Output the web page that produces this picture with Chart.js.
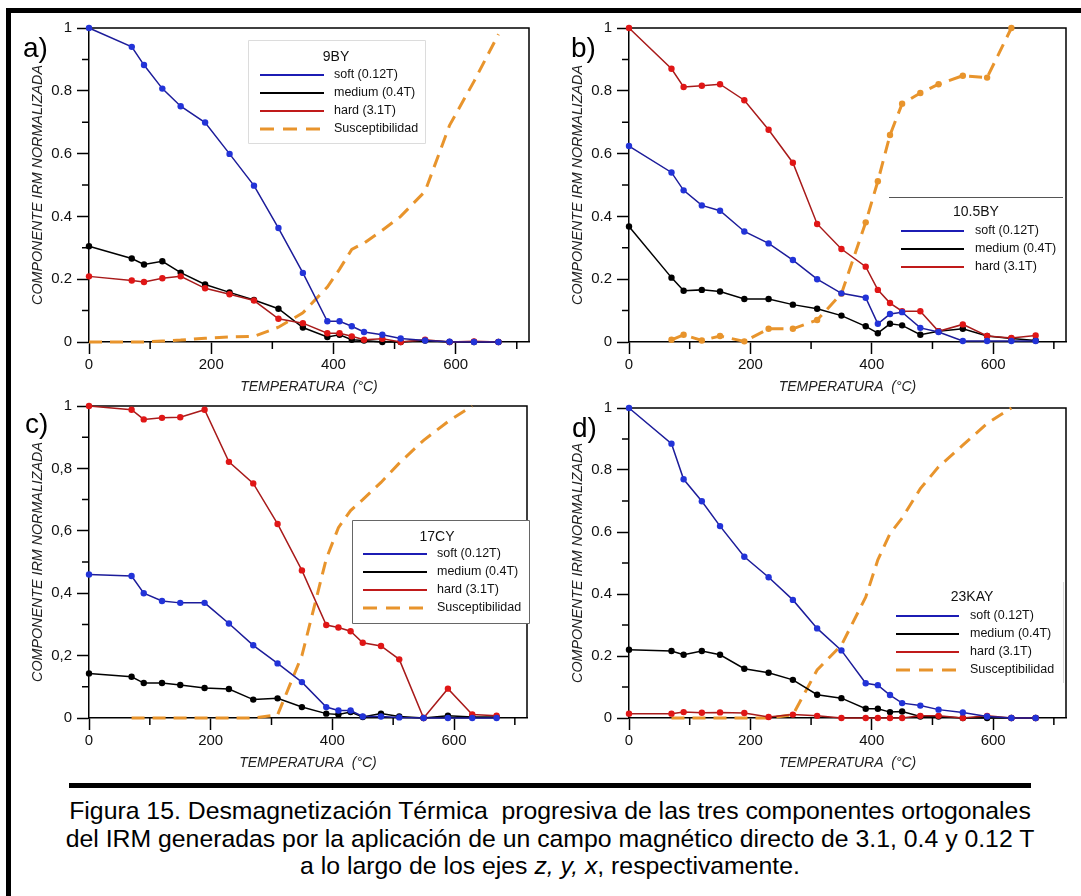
<!DOCTYPE html>
<html>
<head>
<meta charset="utf-8">
<script src="https://cdn.jsdelivr.net/npm/chart.js@4.4.1/dist/chart.umd.min.js"></script>
<style>
  body { margin: 0; background: #fff; }
  #page { position: relative; width: 1081px; height: 896px; overflow: hidden; background: #fff;
          font-family: "Liberation Sans", Arial, sans-serif; }
  .frame-top { position: absolute; left: 6px; top: 8px; width: 1075px; height: 5px; background: #000; }
  .frame-left { position: absolute; left: 6px; top: 8px; width: 5px; height: 888px; background: #000; }
  .panel { position: absolute; }
  .tag { position: absolute; font-size: 28px; line-height: 28px; color: #000; }
  .rule { position: absolute; left: 69px; top: 783px; width: 962px; height: 5px; background: #000; }
  .caption { position: absolute; left: 20px; top: 797px; width: 1060px; text-align: center;
             font-size: 24.8px; line-height: 27.5px; color: #000; white-space: nowrap; }
</style>
</head>
<body>
<div id="page">
  <div class="frame-top"></div>
  <div class="frame-left"></div>

  <canvas id="chartA" class="panel" width="528" height="382" style="left:12px;top:14px"></canvas>
  <canvas id="chartB" class="panel" width="528" height="382" style="left:552px;top:14px"></canvas>
  <canvas id="chartC" class="panel" width="528" height="380" style="left:12px;top:392px"></canvas>
  <canvas id="chartD" class="panel" width="528" height="378" style="left:552px;top:394px"></canvas>

  <div class="tag" style="left:23px;top:34px">a)</div>
  <div class="tag" style="left:571px;top:34px">b)</div>
  <div class="tag" style="left:25px;top:410px">c)</div>
  <div class="tag" style="left:572px;top:414px">d)</div>

  <div class="rule"></div>
  <div class="caption">
    <div>Figura 15. Desmagnetización Térmica &nbsp;progresiva de las tres componentes ortogonales</div>
    <div>del IRM generadas por la aplicación de un campo magnético directo de 3.1, 0.4 y 0.12 T</div>
    <div>a lo largo de los ejes <i>z, y, x</i>, respectivamente.</div>
  </div>
</div>

<script>
// temperature steps (°C)
const temps = [0, 70, 90, 120, 150, 190, 230, 270, 310, 350, 390, 410, 430, 450, 480, 510, 550, 590, 630, 670];
const suscTemps = [70, 90, 120, 150, 190, 230, 270, 310, 350, 390, 410, 430, 450, 480, 510, 550, 590, 630];

// a) 9BY
const softA   = [1.0, 0.940, 0.882, 0.807, 0.751, 0.699, 0.599, 0.498, 0.363, 0.220, 0.066, 0.066, 0.050, 0.032, 0.023, 0.011, 0.005, 0.001, 0, 0];
const mediumA = [0.305, 0.266, 0.247, 0.257, 0.221, 0.183, 0.158, 0.134, 0.106, 0.046, 0.016, 0.023, 0.007, 0.005, 0, 0, 0.005, 0, 0, 0];
const hardA   = [0.209, 0.196, 0.191, 0.203, 0.209, 0.171, 0.152, 0.132, 0.074, 0.060, 0.028, 0.028, 0.018, 0.007, 0.010, 0, 0.007, 0, 0.002, 0];
const suscA   = [0, 0, 0, 0.003, 0.006, 0.012, 0.016, 0.018, 0.047, 0.093, 0.175, 0.232, 0.295, 0.315, 0.356, 0.40, 0.48, 0.69, 0.83, 0.98];

// b) 10.5BY
const softB   = [0.624, 0.540, 0.483, 0.435, 0.418, 0.352, 0.314, 0.261, 0.200, 0.155, 0.141, 0.058, 0.089, 0.095, 0.045, 0.032, 0.003, 0.003, 0.003, 0.003];
const mediumB = [0.368, 0.205, 0.163, 0.166, 0.161, 0.137, 0.137, 0.119, 0.106, 0.084, 0.050, 0.028, 0.058, 0.053, 0.023, 0.034, 0.042, 0.019, 0.011, 0.005];
const hardB   = [1.0, 0.870, 0.812, 0.816, 0.821, 0.770, 0.676, 0.571, 0.376, 0.296, 0.240, 0.166, 0.124, 0.098, 0.098, 0.034, 0.056, 0.019, 0.013, 0.021];
const suscB   = [0.007, 0.023, 0.005, 0.019, 0.002, 0.042, 0.042, 0.070, 0.154, 0.381, 0.512, 0.659, 0.759, 0.793, 0.821, 0.848, 0.842, 1.0];

// c) 17CY
const softC   = [0.460, 0.455, 0.400, 0.375, 0.369, 0.369, 0.303, 0.233, 0.175, 0.115, 0.035, 0.024, 0.024, 0.005, 0.005, 0.002, 0, 0, 0, 0];
const mediumC = [0.143, 0.132, 0.112, 0.112, 0.106, 0.096, 0.093, 0.059, 0.063, 0.035, 0.014, 0.011, 0.019, 0.003, 0.014, 0.005, 0, 0.007, 0.003, 0.003];
const hardC   = [1.0, 0.988, 0.957, 0.962, 0.964, 0.988, 0.821, 0.752, 0.622, 0.473, 0.298, 0.290, 0.278, 0.241, 0.231, 0.188, 0, 0.094, 0.011, 0.007];
const suscC   = [0, 0, 0, 0, 0, 0, 0, 0.01, 0.20, 0.51, 0.61, 0.665, 0.70, 0.755, 0.817, 0.89, 0.95, 1.0];

// d) 23KAY
const softD   = [1.0, 0.885, 0.770, 0.699, 0.619, 0.520, 0.454, 0.381, 0.289, 0.218, 0.112, 0.106, 0.074, 0.048, 0.040, 0.027, 0.018, 0.005, 0, 0];
const mediumD = [0.220, 0.216, 0.204, 0.216, 0.204, 0.159, 0.146, 0.123, 0.075, 0.064, 0.030, 0.030, 0.019, 0.021, 0.005, 0.005, 0, 0, 0, 0];
const hardD   = [0.014, 0.014, 0.019, 0.017, 0.018, 0.016, 0.003, 0.011, 0.007, 0, 0, 0, 0, 0, 0.007, 0.007, 0, 0.007, 0, 0];
const suscD   = [0, 0, 0, 0, 0, 0, 0.01, 0.155, 0.235, 0.39, 0.51, 0.595, 0.645, 0.74, 0.81, 0.88, 0.95, 1.0];

// axes
const xTickValues = [0, 200, 400, 600];
const xTickLabels = ['0', '200', '400', '600'];
const xMinor = [100, 300, 500, 700];
const yTickLabelsDot = ['0', '0.2', '0.4', '0.6', '0.8', '1'];
const yTickLabelsComma = ['0', '0,2', '0,4', '0,6', '0,8', '1'];
const yMinor = [0.1, 0.3, 0.5, 0.7, 0.9];
const legendLabels = ['soft (0.12T)', 'medium (0.4T)', 'hard (3.1T)', 'Susceptibilidad'];

const FONT = '"Liberation Sans", Arial, sans-serif';
const styles = {
  soft:   { line: '#1c1c9a', point: '#2233d8', legend: '#1c1cb4' },
  medium: { line: '#000000', point: '#000000', legend: '#000000' },
  hard:   { line: '#a81a1a', point: '#e01616', legend: '#c01a1a' },
  susc:   { line: '#e8942c', point: '#e8942c', legend: '#e8942c' }
};

const pts = (xs, ys) => xs.map((x, i) => ({ x: x, y: ys[i] }));

const decor = {
  id: 'decor',
  beforeDatasetsDraw(chart) {
    const { ctx, chartArea: a } = chart;
    const xs = chart.scales.x, ys = chart.scales.y;
    ctx.save();
    ctx.strokeStyle = '#000';
    ctx.lineWidth = 1.5;
    ctx.beginPath();
    ctx.moveTo(a.left, a.top);
    ctx.lineTo(a.right, a.top);
    ctx.lineTo(a.right, a.bottom);
    ctx.stroke();
    ctx.beginPath();
    xMinor.forEach(v => { const p = xs.getPixelForValue(v); ctx.moveTo(p, a.bottom); ctx.lineTo(p, a.bottom + 7); });
    yMinor.forEach(v => { const p = ys.getPixelForValue(v); ctx.moveTo(a.left, p); ctx.lineTo(a.left - 7, p); });
    ctx.stroke();
    ctx.restore();
  },
  afterDraw(chart, args, o) {
    const L = o.legend, ctx = chart.ctx;
    ctx.save();
    ctx.translate(-o.left, -o.top);
    const [x0, y0, x1, y1] = L.box;
    ctx.fillStyle = '#fff';
    ctx.fillRect(x0, y0, x1 - x0, y1 - y0);
    ctx.strokeStyle = L.borderColor;
    ctx.lineWidth = 1;
    ctx.beginPath();
    if (L.border === 'all') ctx.rect(x0 + 0.5, y0 + 0.5, x1 - x0, y1 - y0);
    if (L.border === 'top') { ctx.moveTo(x0, y0 + 0.5); ctx.lineTo(x1, y0 + 0.5); }
    if (L.border === 'right') { ctx.moveTo(x1 + 0.5, y0); ctx.lineTo(x1 + 0.5, y1); }
    ctx.stroke();

    ctx.fillStyle = '#111';
    ctx.textBaseline = 'middle';
    ctx.textAlign = 'center';
    ctx.font = '14px ' + FONT;
    ctx.fillText(L.title, L.titleX, L.titleY);
    ctx.textAlign = 'left';
    ctx.font = '12.5px ' + FONT;
    L.keys.forEach((k, i) => {
      const y = L.rows[i];
      ctx.strokeStyle = styles[k].legend;
      ctx.lineWidth = k === 'susc' ? 3 : 1.8;
      ctx.setLineDash(k === 'susc' ? [14, 9] : []);
      ctx.beginPath();
      ctx.moveTo(L.sample[0], y);
      ctx.lineTo(L.sample[1], y);
      ctx.stroke();
      ctx.setLineDash([]);
      ctx.fillText(legendLabels[i], L.labelX, y);
    });
    ctx.restore();
  }
};

function lineSet(key, xs, ys, withPoints) {
  const s = styles[key];
  return {
    data: pts(xs, ys),
    borderColor: s.line,
    backgroundColor: s.point,
    pointBackgroundColor: s.point,
    pointBorderWidth: 0,
    pointRadius: withPoints ? 3.2 : 0,
    borderWidth: key === 'susc' ? 3 : 1.5,
    borderDash: key === 'susc' ? [13, 8] : [],
    tension: 0,
    clip: false
  };
}

function makePanel(id, p) {
  const datasets = [
    lineSet('soft', temps, p.soft, true),
    lineSet('hard', temps, p.hard, true),
    lineSet('medium', temps, p.medium, true),
    lineSet('susc', p.suscT, p.susc, p.suscPoints)
  ];
  new Chart(document.getElementById(id), {
    type: 'line',
    data: { datasets },
    plugins: [decor],
    options: {
      responsive: false,
      animation: false,
      events: [],
      layout: { padding: { left: 0, top: 10, right: p.padRight, bottom: 0 } },
      plugins: {
        legend: { display: false },
        tooltip: { enabled: false },
        decor: { left: p.left, top: p.top, legend: p.legend }
      },
      scales: {
        x: {
          type: 'linear', min: 0, max: 720,
          afterBuildTicks: s => { s.ticks = s.ticks.filter(t => xTickValues.includes(t.value)); },
          afterFit: s => { s.height = 54; },
          ticks: {
            stepSize: 200, padding: 2, color: '#111', maxRotation: 0, autoSkip: false,
            font: { family: FONT, size: 15 },
            callback: v => xTickLabels[xTickValues.indexOf(v)]
          },
          grid: { drawOnChartArea: false, drawTicks: true, tickLength: 12, tickColor: '#000', tickWidth: 1.5 },
          border: { display: true, color: '#000', width: 1.5 },
          title: {
            display: true, text: 'TEMPERATURA  (°C)', color: '#222',
            font: { family: FONT, size: 14, style: 'italic' }, padding: { top: 0, bottom: 0 }
          }
        },
        y: {
          type: 'linear', min: 0, max: 1,
          afterFit: s => { s.width = 77; },
          ticks: {
            stepSize: 0.2, padding: 5, color: '#111',
            font: { family: FONT, size: 15 },
            callback: v => p.yLabels[Math.round(v / 0.2)]
          },
          grid: { drawOnChartArea: false, drawTicks: true, tickLength: 12, tickColor: '#000', tickWidth: 1.5 },
          border: { display: true, color: '#000', width: 1.5 },
          title: {
            display: true, text: 'COMPONENTE IRM NORMALIZADA', color: '#222',
            font: { family: FONT, size: 14.3, style: 'italic' }, padding: { top: 17, bottom: 0 }
          }
        }
      }
    }
  });
}

makePanel('chartA', {
  left: 12, top: 14, padRight: 11,
  soft: softA, medium: mediumA, hard: hardA, suscT: temps, susc: suscA, suscPoints: false,
  yLabels: yTickLabelsDot,
  legend: { box: [248, 40, 425, 143], border: 'all', borderColor: '#dcdcdc',
            title: '9BY', titleX: 336, titleY: 57, rows: [75, 93, 111, 129],
            sample: [260, 324], labelX: 334, keys: ['soft', 'medium', 'hard', 'susc'] }
});
makePanel('chartB', {
  left: 552, top: 14, padRight: 14,
  soft: softB, medium: mediumB, hard: hardB, suscT: suscTemps, susc: suscB, suscPoints: true,
  yLabels: yTickLabelsDot,
  legend: { box: [889, 197, 1063, 278], border: 'top', borderColor: '#555',
            title: '10.5BY', titleX: 976, titleY: 212, rows: [231, 249, 267],
            sample: [901, 964], labelX: 975, keys: ['soft', 'medium', 'hard'] }
});
makePanel('chartC', {
  left: 12, top: 392, padRight: 13,
  soft: softC, medium: mediumC, hard: hardC, suscT: suscTemps, susc: suscC, suscPoints: false,
  yLabels: yTickLabelsComma,
  legend: { box: [352, 520, 529, 623], border: 'all', borderColor: '#666',
            title: '17CY', titleX: 437, titleY: 537, rows: [554, 572, 590, 608],
            sample: [363, 427], labelX: 437, keys: ['soft', 'medium', 'hard', 'susc'] }
});
makePanel('chartD', {
  left: 552, top: 394, padRight: 14,
  soft: softD, medium: mediumD, hard: hardD, suscT: suscTemps, susc: suscD, suscPoints: false,
  yLabels: yTickLabelsDot,
  legend: { box: [891, 582, 1063, 683], border: 'right', borderColor: '#d8d8d8',
            title: '23KAY', titleX: 972, titleY: 597, rows: [616, 634, 652, 670],
            sample: [896, 959], labelX: 970, keys: ['soft', 'medium', 'hard', 'susc'] }
});
</script>
</body>
</html>
